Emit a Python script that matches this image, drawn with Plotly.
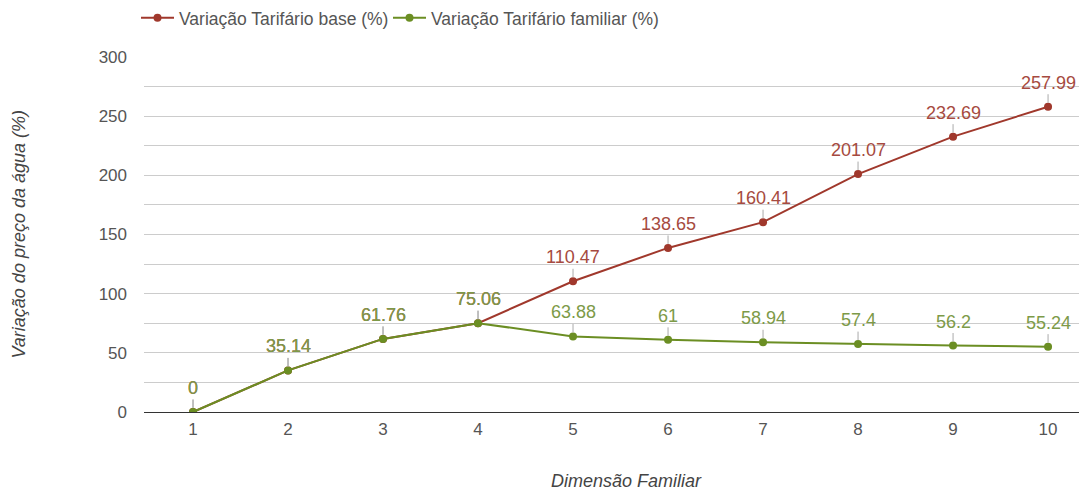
import plotly.graph_objects as go

categories = [1, 2, 3, 4, 5, 6, 7, 8, 9, 10]
base_values = [0, 35.14, 61.76, 75.06, 110.47, 138.65, 160.41, 201.07, 232.69, 257.99]
familiar_values = [0, 35.14, 61.76, 75.06, 63.88, 61, 58.94, 57.4, 56.2, 55.24]
y_ticks = [0, 50, 100, 150, 200, 250, 300]

RED = "#a0382c"
GREEN = "#6b8e23"
RED_TXT = "#a64a40"
GREEN_TXT = "#7d9a48"
FONT = "Liberation Sans, Arial, sans-serif"

# the page body has an 8px margin; figure is sized to fit the 1087x490 window
W, H = 1079, 482
ML, MT, MB = 136, 49, 78
PW = W - ML
PH = H - MT - MB

fig = go.Figure()
fig.add_trace(go.Scatter(
    x=categories, y=base_values, mode="lines+markers",
    name="Variação Tarifário base (%)", legend="legend",
    line=dict(color=RED, width=2), marker=dict(color=RED, size=8),
))
fig.add_trace(go.Scatter(
    x=categories, y=familiar_values, mode="lines+markers",
    name="Variação Tarifário familiar (%)", legend="legend2",
    line=dict(color=GREEN, width=2), marker=dict(color=GREEN, size=8),
))

for vals, col in ((base_values, RED_TXT), (familiar_values, GREEN_TXT)):
    for xv, yv in zip(categories, vals):
        fig.add_annotation(
            x=xv, y=yv, text=f"{yv:g}", showarrow=True, arrowhead=0,
            arrowwidth=1, arrowcolor="#aaaaaa", ax=0, ay=-24, standoff=4,
            font=dict(family=FONT, size=18, color=col),
        )

# axis titles (positions in window pixels)
fig.add_annotation(
    xref="paper", yref="paper", x=(626 - 144) / PW, y=-(481 - 412) / PH,
    xanchor="center", yanchor="middle", showarrow=False,
    text="<i>Dimensão Familiar</i>", font=dict(family=FONT, size=18, color="#444444"),
)
fig.add_annotation(
    xref="paper", yref="paper", x=(18 - 144) / PW, y=0.5,
    xanchor="center", yanchor="middle", showarrow=False, textangle=-90,
    text="<i>Variação do preço da água (%)</i>", font=dict(family=FONT, size=18, color="#444444"),
)

legend_common = dict(orientation="h", y=1.11, xanchor="left", yanchor="middle",
                     font=dict(size=17.5, color="#555555"), itemwidth=33,
                     bgcolor="rgba(0,0,0,0)")

fig.update_layout(
    width=W, height=H,
    margin=dict(l=ML, r=0, t=MT, b=MB, autoexpand=False),
    paper_bgcolor="white", plot_bgcolor="white",
    font=dict(family=FONT, color="#555555"),
    showlegend=True,
    legend=dict(x=(136 - 144) / PW, **legend_common),
    legend2=dict(x=(388 - 144) / PW, **legend_common),
    xaxis=dict(
        range=[0.484, 10.41], tickvals=categories, ticktext=[str(c) for c in categories],
        showgrid=False, zeroline=False, showline=False, automargin=False,
        tickfont=dict(size=17, color="#555555"), ticklabelstandoff=5,
    ),
    yaxis=dict(
        range=[0, 300], tickvals=y_ticks, showgrid=True, gridcolor="#cccccc", gridwidth=1,
        minor=dict(dtick=25, tick0=0, showgrid=True, gridcolor="#cccccc", gridwidth=1),
        zeroline=True, zerolinecolor="#333333", zerolinewidth=1, showline=False,
        automargin=False,
        tickfont=dict(size=17, color="#555555"), ticklabelstandoff=16,
    ),
)

fig.write_html("out.html")
